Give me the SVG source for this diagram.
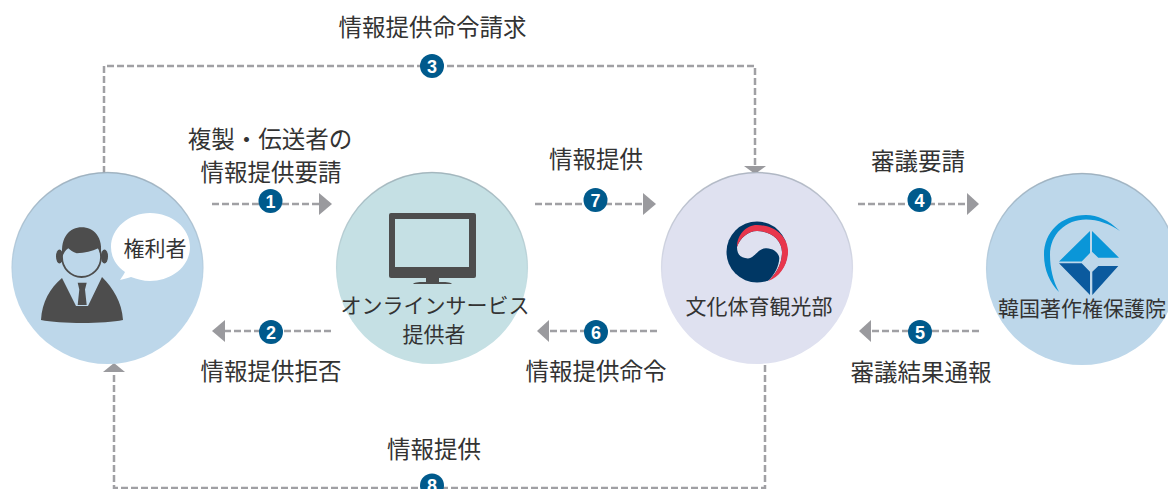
<svg xmlns="http://www.w3.org/2000/svg" width="1168" height="489" viewBox="0 0 1168 489">
<style>
text{font-family:"Noto Sans CJK JP","Noto Sans CJK SC",sans-serif;fill:#333;text-anchor:middle}
.lb{font-size:23.5px}
.nd{font-size:21px}
.dash{fill:none;stroke:#a0a0a4;stroke-width:2.5;stroke-dasharray:7 3}
.head{fill:#9a9a9e}
.bg{fill:#005a8c}
.num{font-family:"Liberation Sans",Arial,sans-serif;font-size:18px;font-weight:700;fill:#fff}
.rim{fill:none;stroke:url(#edge);stroke-width:1.5}
.ic{fill:#4d4d4d}
</style>
<defs>
<linearGradient id="edge" x1="0" y1="0" x2="0" y2="1">
<stop offset="0" stop-color="#7f8c96" stop-opacity=".5"/>
<stop offset=".6" stop-color="#7f8c96" stop-opacity="0"/>
</linearGradient>
</defs>
<rect width="1168" height="489" fill="#fff"/>
<g id="connectors">
<path class="dash" d="M212 204H320"/><path class="head" d="M319 193L332 204L319 215Z"/>
<path class="dash" d="M331 331H224"/><path class="head" d="M225 320L212 331L225 342Z"/>
<path class="dash" d="M104 173V66H755V166"/><path class="head" d="M744 166H766L755 174Z"/>
<path class="dash" d="M858 204H968"/><path class="head" d="M967 193L979 204L967 215Z"/>
<path class="dash" d="M979 331H870"/><path class="head" d="M871 320L859 331L871 342Z"/>
<path class="dash" d="M657 331H548"/><path class="head" d="M549 320L537 331L549 342Z"/>
<path class="dash" d="M535 204H644"/><path class="head" d="M643 193L656 204L643 215Z"/>
<path class="dash" d="M765 365V488H114V372"/><path class="head" d="M103 372H125L114 363Z"/>
</g>
<g id="node-rights-holder">
<circle cx="107.500" cy="268" r="96" fill="#bdd7ea"/>
<circle class="rim" cx="107.500" cy="268" r="95.500"/>
<ellipse class="ic" cx="59.500" cy="256.500" rx="3.500" ry="7"/>
<ellipse class="ic" cx="104.500" cy="256.500" rx="3.500" ry="7"/>
<ellipse cx="81.500" cy="257" rx="19.500" ry="20" fill="#bdd7ea" stroke="#4d4d4d" stroke-width="1.800"/>
<path class="ic" d="M62.500 256C60 237 70 227.300 81.700 227.300C93.500 227.300 104 237 100.500 256C100 252 99 250 98.300 248.300C92 251 85 253.300 76.700 253.300C73 252 70 250 68.300 248.300C65.500 250 64 253 62.500 256Z"/>
<path class="ic" d="M62 278C50 288 42 302 41 320C60 324 105 324 123 320C122 302 113 288 102 277L88 306H76Z"/>
<path class="ic" d="M77.700 282.700H86.700L85 289.500L86.700 305H77.700L79.300 289.500Z"/>
<path fill="#fff" d="M120 280C122 277 124 274 125 272C115 265 111 256 111 247C111 228 129 213 150 213C172 213 190 228 190 247C190 266 172 281 150 281C143 281 137 279 131 277C128 278 124 279 120 280Z"/>
<text class="nd" x="155" y="256">権利者</text>
</g>
<g id="node-service-provider">
<circle cx="432" cy="268" r="96" fill="#c5e0e4"/>
<circle class="rim" cx="432" cy="268" r="95.500"/>
<rect class="ic" x="389" y="213" width="87" height="65" rx="2"/>
<rect x="395" y="219" width="74" height="48" fill="#c5e0e4"/>
<path class="ic" d="M426 277H439V282C445 282 450 282 452 284H413C415 282 420 282 426 282Z"/>
<text class="nd" x="435" y="313">オンラインサービス</text>
<text class="nd" x="434" y="342">提供者</text>
</g>
<g id="node-ministry">
<circle cx="757" cy="268" r="96" fill="#dfe1f0"/>
<circle class="rim" cx="757" cy="268" r="95.500"/>
<circle cx="757" cy="252" r="30.500" fill="#003764"/>
<path fill="#dfe1f0" d="M737 247C737 256 742 258 748 258.500C755 258 758 248 766 248.300C773 248 779 253 779.300 258C779 266 775 274 768.300 281C776 274 782 264 782 252C782 240 771 231 757 231C748 231 740 238 737 247Z"/>
<path fill="#e8364c" d="M768.300 281C780 277 788.500 264 788 250C787 235 773 225 757 225C746 225 737 235 737 247C740 238 748 231 757 231C771 231 782 240 782 252C782 264 776 274 768.300 281Z"/>
<text class="nd" x="759" y="314">文化体育観光部</text>
</g>
<g id="node-copyright-commission">
<circle cx="1082" cy="269" r="96" fill="#bdd7ea"/>
<circle class="rim" cx="1082" cy="269" r="95.500"/>
<path fill="#0a96d8" d="M1120 231C1108 220 1098 215 1086 215C1061 215 1044 232 1044 255C1044 270 1050 283 1059 292C1053 281 1050 268 1050 255C1050 234 1066 219.500 1086 219.500C1098 219.500 1110 224 1120 231Z"/>
<path fill="#0a96d8" d="M1090 231L1059 261.500H1081.700L1090 253ZM1092 231L1119 257.700H1098.300L1092 251.700Z"/>
<path fill="#0b5a9e" d="M1059 263.300H1081.700L1090 271.700V295ZM1118.300 266H1098.300L1092.300 271.700V295Z"/>
<text class="nd" x="1082" y="316">韓国著作権保護院</text>
</g>
<g id="labels">
<text class="lb" x="432.500" y="36">情報提供命令請求</text>
<text class="lb" x="270" y="148">複製・伝送者の</text>
<text class="lb" x="271" y="181">情報提供要請</text>
<text class="lb" x="596" y="168">情報提供</text>
<text class="lb" x="918" y="170">審議要請</text>
<text class="lb" x="271" y="380">情報提供拒否</text>
<text class="lb" x="596" y="380">情報提供命令</text>
<text class="lb" x="921" y="381">審議結果通報</text>
<text class="lb" x="434" y="458">情報提供</text>
</g>
<g id="badges">
<circle class="bg" cx="270.500" cy="201" r="12"/><text class="num" x="270.500" y="207.500">1</text>
<circle class="bg" cx="271" cy="332" r="12"/><text class="num" x="271" y="338.500">2</text>
<circle class="bg" cx="432" cy="66" r="12"/><text class="num" x="432" y="72.500">3</text>
<circle class="bg" cx="919.500" cy="200" r="12"/><text class="num" x="919.500" y="206.500">4</text>
<circle class="bg" cx="920" cy="332" r="12"/><text class="num" x="920" y="338.500">5</text>
<circle class="bg" cx="596" cy="332" r="12"/><text class="num" x="596" y="338.500">6</text>
<circle class="bg" cx="595.500" cy="200" r="12"/><text class="num" x="595.500" y="206.500">7</text>
<circle class="bg" cx="432" cy="485.500" r="12"/><text class="num" x="432" y="492">8</text>
</g>
</svg>
